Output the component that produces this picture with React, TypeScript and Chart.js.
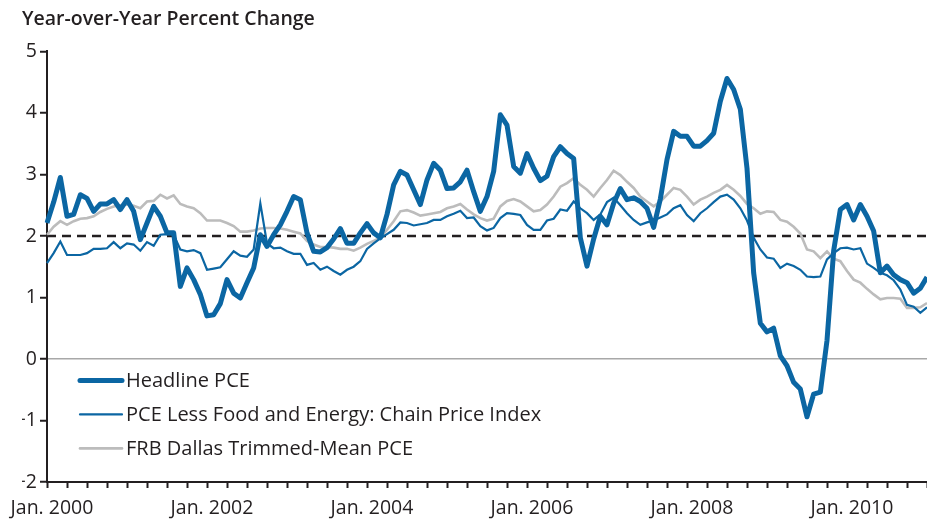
import React, { useEffect, useRef } from "react";
import { Chart, registerables } from "chart.js";

Chart.register(...registerables);

// Monthly observations, Jan. 2000 .. Jan. 2011
const startYear = 2000;
const monthCount = 133;

const headlinePCE = [
  2.21, 2.55, 2.95, 2.32, 2.35, 2.67, 2.61, 2.40, 2.52, 2.52, 2.59, 2.43, 2.59, 2.40, 1.94, 2.21, 2.48, 2.32, 2.05, 2.05, 1.18, 1.48, 1.29, 1.05, 0.70, 0.72,
  0.90, 1.29, 1.07, 0.99, 1.24, 1.48, 2.02, 1.83, 2.02, 2.18, 2.40, 2.64, 2.59, 2.05, 1.75, 1.74, 1.81, 1.95, 2.12, 1.88, 1.88, 2.05, 2.20, 2.05, 1.97, 2.35, 2.83, 3.05,
  2.99, 2.75, 2.51, 2.91, 3.18, 3.07, 2.77, 2.78, 2.88, 3.07, 2.72, 2.40, 2.64, 3.05, 3.97, 3.80, 3.13, 3.02, 3.34, 3.10, 2.90, 2.97, 3.29, 3.45, 3.34, 3.26,
  1.97, 1.51, 1.95, 2.32, 2.18, 2.53, 2.77, 2.59, 2.62, 2.56, 2.45, 2.14, 2.60, 3.24, 3.70, 3.62, 3.62, 3.46, 3.46, 3.55, 3.67, 4.19, 4.56, 4.38,
  4.06, 3.10, 1.40, 0.58, 0.44, 0.50, 0.05, -0.11, -0.38, -0.49, -0.94, -0.57, -0.54, 0.30, 1.76, 2.43, 2.51, 2.26, 2.51, 2.32, 2.08, 1.40, 1.51, 1.37, 1.29, 1.24, 1.07, 1.15, 1.33,
];

const corePCE = [
  1.56, 1.72, 1.91, 1.69, 1.69, 1.69, 1.72, 1.79, 1.79, 1.80, 1.90, 1.80, 1.88, 1.86, 1.76, 1.90, 1.84, 2.02, 2.03, 2.02, 1.78, 1.75, 1.77, 1.72, 1.45, 1.47,
  1.49, 1.62, 1.75, 1.68, 1.66, 1.78, 2.53, 1.88, 1.80, 1.81, 1.75, 1.71, 1.71, 1.53, 1.56, 1.45, 1.50, 1.43, 1.37, 1.45, 1.50, 1.59, 1.79, 1.88, 1.96, 2.03, 2.10, 2.22,
  2.21, 2.17, 2.19, 2.21, 2.26, 2.26, 2.32, 2.36, 2.41, 2.29, 2.30, 2.16, 2.09, 2.13, 2.29, 2.37, 2.36, 2.34, 2.18, 2.10, 2.10, 2.25, 2.28, 2.43, 2.41, 2.56,
  2.45, 2.37, 2.26, 2.35, 2.55, 2.62, 2.50, 2.37, 2.26, 2.18, 2.22, 2.25, 2.30, 2.35, 2.45, 2.50, 2.34, 2.24, 2.37, 2.45, 2.55,
  2.64, 2.67, 2.59, 2.45, 2.25, 1.97, 1.78, 1.65, 1.63, 1.48, 1.55, 1.51, 1.45, 1.34, 1.33, 1.34, 1.62, 1.72, 1.80, 1.81, 1.78, 1.80, 1.55, 1.48, 1.40, 1.36, 1.28, 1.13, 0.88, 0.85, 0.75, 0.84,
];

const trimmedMeanPCE = [
  2.02, 2.15, 2.24, 2.18, 2.24, 2.28, 2.29, 2.32, 2.39, 2.44, 2.48, 2.50, 2.51, 2.49, 2.45, 2.56, 2.57, 2.67, 2.61, 2.66, 2.52, 2.48, 2.45, 2.37, 2.25, 2.25,
  2.25, 2.21, 2.16, 2.07, 2.07, 2.09, 2.12, 2.13, 2.13, 2.12, 2.10, 2.07, 2.04, 1.92, 1.86, 1.82, 1.82, 1.81, 1.79, 1.79, 1.76, 1.81, 1.87, 1.92, 1.97, 2.10, 2.24, 2.40,
  2.42, 2.38, 2.33, 2.35, 2.37, 2.39, 2.45, 2.48, 2.52, 2.43, 2.35, 2.29, 2.25, 2.28, 2.48, 2.57, 2.60, 2.56, 2.48, 2.40, 2.42, 2.51, 2.64, 2.80, 2.86, 2.94,
  2.83, 2.75, 2.64, 2.78, 2.91, 3.06, 2.99, 2.88, 2.78, 2.64, 2.56, 2.48, 2.56, 2.67, 2.78, 2.75, 2.64, 2.51, 2.59, 2.64, 2.70,
  2.75, 2.83, 2.75, 2.65, 2.52, 2.45,
  2.36, 2.40, 2.39, 2.26, 2.23, 2.15, 2.04, 1.78, 1.75, 1.64, 1.75, 1.63, 1.59, 1.43, 1.29, 1.24, 1.14, 1.05, 0.97, 0.99, 0.99, 0.98, 0.83, 0.83, 0.84, 0.91,
];

const targetRate = 2;

const yearTickLabels = ["Jan. 2000", "Jan. 2002", "Jan. 2004", "Jan. 2006", "Jan. 2008", "Jan. 2010"];
const seriesNames = [
  "Headline PCE",
  "PCE Less Food and Energy: Chain Price Index",
  "FRB Dallas Trimmed-Mean PCE",
];

const months: string[] = [];
for (let i = 0; i < monthCount; i++) {
  const y = startYear + Math.floor(i / 12);
  const m = (i % 12) + 1;
  months.push(`${y}-${m < 10 ? "0" + m : m}`);
}

const FONT = '"Open Sans", "DejaVu Sans", sans-serif';
const BLUE = "#0b66a3";
const GRAY = "#bcbcbc";
const INK = "#231f20";

const insideLegend = {
  id: "insideLegend",
  afterDraw(chart: any) {
    const { ctx, chartArea } = chart;
    const x0 = chartArea.left + 33;
    const x1 = chartArea.left + 75;
    const rows = [329, 363, 397];
    ctx.save();
    ctx.font = `500 20px ${FONT}`;
    ctx.textBaseline = "middle";
    ctx.textAlign = "left";
    for (let i = 0; i < 3; i++) {
      const ds = chart.data.datasets[i];
      const y = chartArea.top + rows[i];
      ctx.beginPath();
      ctx.strokeStyle = ds.borderColor;
      ctx.lineWidth = ds.borderWidth;
      ctx.lineCap = "round";
      ctx.moveTo(x0, y);
      ctx.lineTo(x1, y);
      ctx.stroke();
      ctx.fillStyle = INK;
      ctx.fillText(ds.label, x1 + 4, y + 1);
    }
    ctx.restore();
  },
};

export default function App() {
  const ref = useRef<HTMLCanvasElement | null>(null);

  useEffect(() => {
    if (!ref.current) return;
    const chart = new Chart(ref.current, {
      type: "line",
      data: {
        labels: months,
        datasets: [
          {
            label: seriesNames[0],
            data: headlinePCE,
            borderColor: BLUE,
            borderWidth: 5,
            pointRadius: 0,
            tension: 0,
            borderJoinStyle: "round",
          },
          {
            label: seriesNames[1],
            data: corePCE,
            borderColor: BLUE,
            borderWidth: 2.2,
            pointRadius: 0,
            tension: 0,
          },
          {
            label: seriesNames[2],
            data: trimmedMeanPCE,
            borderColor: GRAY,
            borderWidth: 2.6,
            pointRadius: 0,
            tension: 0,
          },
          {
            label: "2 percent",
            data: months.map(() => targetRate),
            borderColor: INK,
            borderWidth: 2.5,
            borderDash: [9, 6],
            pointRadius: 0,
          },
        ],
      },
      options: {
        responsive: false,
        animation: false,
        layout: { padding: { left: 22, right: 0, top: 0, bottom: 0 } },
        plugins: {
          legend: { display: false },
          tooltip: { enabled: false },
          title: {
            display: true,
            text: "Year-over-Year Percent Change",
            align: "start",
            color: INK,
            font: { family: FONT, size: 19.5, weight: "600" },
            padding: { top: 8, bottom: 20 },
          },
        },
        scales: {
          x: {
            type: "category",
            offset: false,
            border: { display: true, color: INK, width: 2 },
            grid: {
              display: true,
              drawOnChartArea: false,
              drawTicks: true,
              tickLength: 6,
              tickWidth: 2,
              tickColor: (c: any) => (c.index % 3 === 0 ? INK : "rgba(0,0,0,0)"),
            },
            ticks: {
              autoSkip: false,
              maxRotation: 0,
              minRotation: 0,
              padding: 9,
              labelOffset: 5,
              color: INK,
              font: { family: FONT, size: 19.5, weight: "500" },
              callback: (_v: any, i: number) => (i % 24 === 0 ? yearTickLabels[i / 24] : ""),
            },
            afterFit: (s: any) => {
              s.height = 39;
              s.paddingLeft = 0;
              s.paddingRight = 0;
            },
          },
          y: {
            min: -2,
            max: 5,
            border: { display: true, color: INK, width: 2 },
            grid: {
              drawOnChartArea: true,
              drawTicks: true,
              tickLength: 7,
              tickWidth: 2,
              tickColor: INK,
              lineWidth: 1.5,
              color: (c: any) => (c.tick && c.tick.value === 0 ? "#a8a8a8" : "rgba(0,0,0,0)"),
            },
            ticks: {
              stepSize: 1,
              padding: 3,
              color: INK,
              font: { family: FONT, size: 19.5, weight: "500" },
              callback: (v: any) => (v < 0 ? "\u2212" + Math.abs(v) : String(v)),
            },
            afterFit: (s: any) => {
              s.width = 25;
            },
          },
        },
      },
      plugins: [insideLegend],
    });
    return () => chart.destroy();
  }, []);

  return (
    <div style={{ position: "fixed", left: 0, top: 0, width: 927, height: 521, background: "#fff" }}>
      <canvas ref={ref} width={927} height={521} style={{ display: "block" }} />
    </div>
  );
}
